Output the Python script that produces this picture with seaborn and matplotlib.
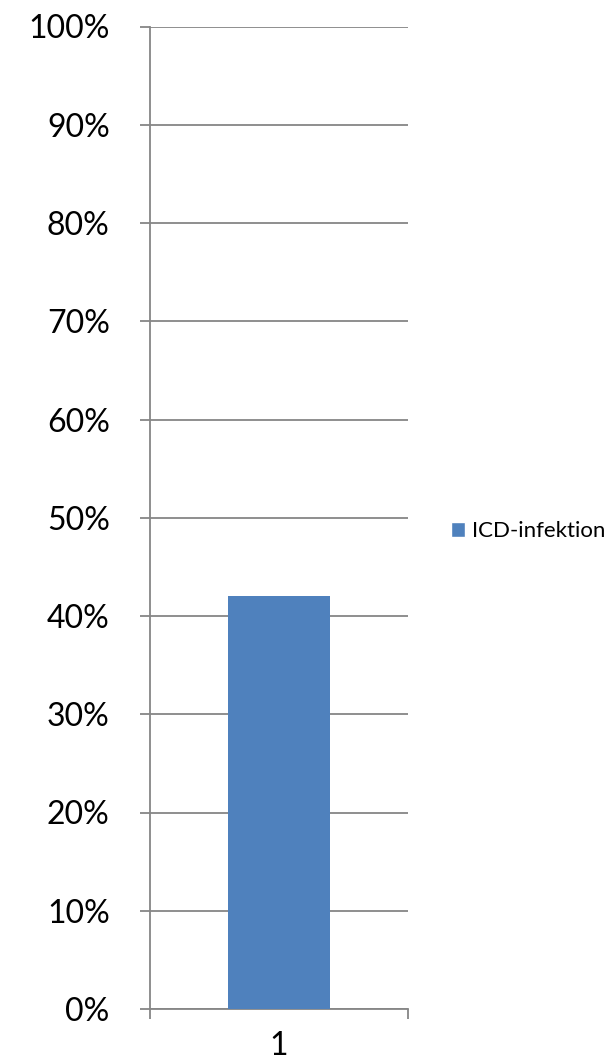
import matplotlib
matplotlib.use("Agg")
import matplotlib.pyplot as plt
import seaborn as sns
import pandas as pd
from matplotlib.ticker import PercentFormatter, FixedLocator
from matplotlib.patches import Patch

# data
categories = ["1"]
series_name = "ICD-infektion"
values = [0.42]
yticks = [i / 10 for i in range(11)]

df = pd.DataFrame({"cat": categories, "val": values, "serie": [series_name]})

sns.set_style("white")
plt.rcParams["font.family"] = ["Lato", "DejaVu Sans"]
plt.rcParams["text.color"] = "black"

fig = plt.figure(figsize=(6.16, 10.63), dpi=100)
ax = fig.add_axes([150 / 616, 1 - 1009 / 1063, 258 / 616, 982.5 / 1063])

sns.barplot(data=df, x="cat", y="val", color="#4F81BD", width=0.395,
            saturation=1, linewidth=0, ax=ax, zorder=3)

ax.set_ylim(0, 1)
ax.set_xlim(-0.5, 0.5)
ax.set_yticks(yticks)
ax.yaxis.set_major_formatter(PercentFormatter(1.0, decimals=0))
ax.grid(axis="y", color="#868686", linewidth=1.3, zorder=0)
ax.set_axisbelow(True)

for s in ["top", "right"]:
    ax.spines[s].set_visible(False)
for s in ["left", "bottom"]:
    ax.spines[s].set_color("#868686")
    ax.spines[s].set_linewidth(1.3)

ax.tick_params(axis="y", direction="out", length=7, width=1.3, color="#868686",
               labelsize=23, pad=22, left=True, labelcolor="black")
ax.tick_params(axis="x", which="major", length=0, labelsize=23, pad=16, labelcolor="black")
ax.xaxis.set_minor_locator(FixedLocator([-0.5, 0.5]))
ax.tick_params(axis="x", which="minor", direction="out", length=7, width=1.3,
               color="#868686", bottom=True)
ax.set_xlabel("")
ax.set_ylabel("")

handle = Patch(facecolor="#4F81BD", label=series_name)
fig.legend(handles=[handle], loc="center left", bbox_to_anchor=(451 / 616, 1 - 531 / 1063),
           frameon=False, fontsize=16, handlelength=0.65, handleheight=0.65,
           handletextpad=0.3, borderpad=0, borderaxespad=0)

fig.savefig("out.png", dpi=100)
